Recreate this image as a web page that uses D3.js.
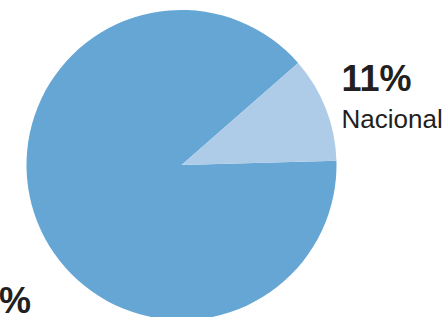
<!DOCTYPE html>
<html>
<head>
<meta charset="utf-8">
<script src="https://cdn.jsdelivr.net/npm/d3@7"></script>
<style>
    html, body { margin: 0; padding: 0; background: #fff; }
    svg { display: block; }
    text { font-family: "Liberation Sans", Arial, Helvetica, sans-serif; fill: #231f20; }
</style>
</head>
<body>
<svg id="chart"></svg>
<script>
// data
let categories = ['Internacional', 'Nacional'];
let shares = [89, 11];
let colors = ['#65a6d5', '#aecbe8'];

let width = 446;
let height = 317;
let config = {
    cx: 181.5,
    cy: 165,
    r: 155,
    // where the big slice begins, degrees clockwise from 12 o'clock
    start: 88.4
};

let svg = d3.select('#chart')
    .attr('width', width)
    .attr('height', height);

let colorScale = d3.scaleOrdinal()
    .domain(categories)
    .range(colors);

let pie = d3.pie()
    .sort(null)
    .value(d => d.value)
    .startAngle(config.start * Math.PI / 180)
    .endAngle(config.start * Math.PI / 180 + 2 * Math.PI);

let arc = d3.arc()
    .innerRadius(0)
    .outerRadius(config.r);

let rows = categories.map((c, i) => ({name: c, value: shares[i]}));
let arcs = pie(rows);

let g = svg.append('g')
    .attr('transform', `translate(${config.cx},${config.cy})`);

g.selectAll('path')
    .data(arcs)
    .enter()
    .append('path')
    .attr('d', arc)
    .attr('fill', d => colorScale(d.data.name));

// Nacional label, right of the pie
let nac = arcs[1];
let lx = config.cx + config.r + 5;
svg.append('text')
    .attr('x', lx)
    .attr('y', 91)
    .attr('font-size', 36)
    .attr('font-weight', 'bold')
    .text(`${nac.data.value}%`);
svg.append('text')
    .attr('x', lx)
    .attr('y', 128)
    .attr('font-size', 26)
    .text(nac.data.name);

// big slice label, mostly off the left edge (as in the reference)
let big = arcs[0];
svg.append('text')
    .attr('x', 31)
    .attr('y', 313)
    .attr('text-anchor', 'end')
    .attr('font-size', 36)
    .attr('font-weight', 'bold')
    .text(`${big.data.value}%`);
</script>
</body>
</html>
